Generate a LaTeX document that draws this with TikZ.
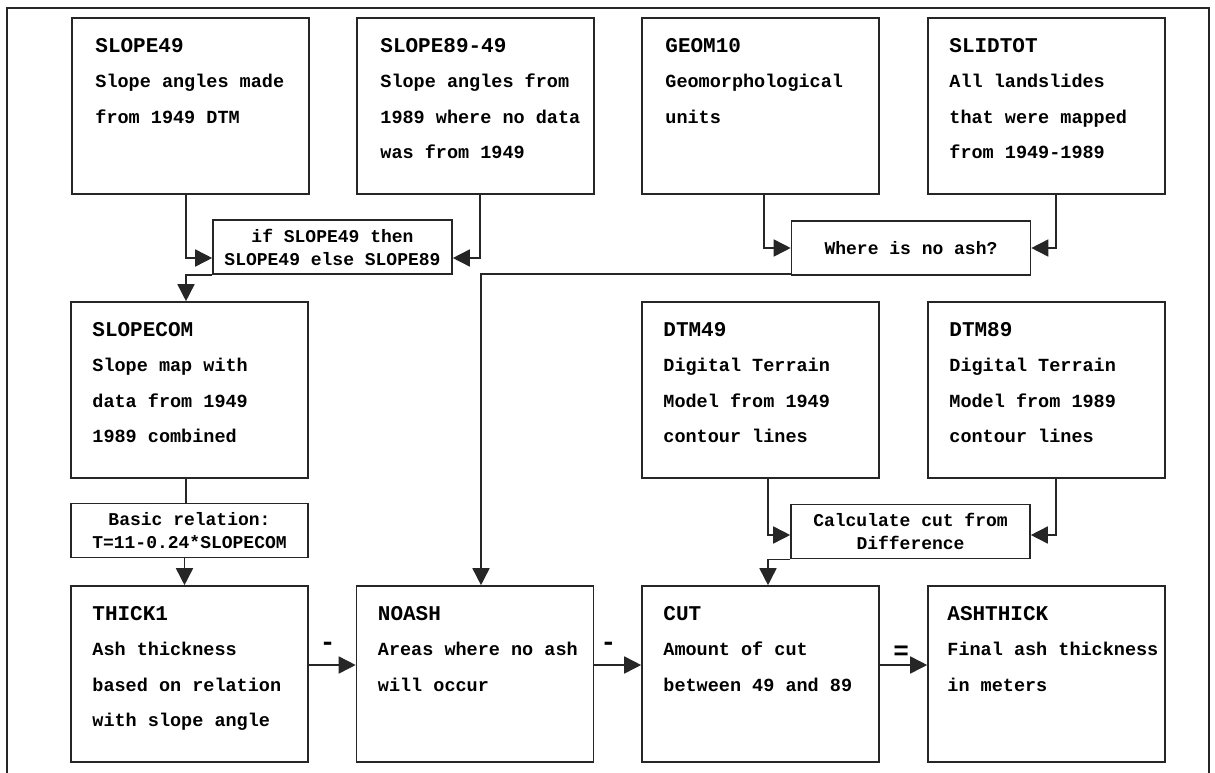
\documentclass[tikz,border=0pt]{standalone}
\usepackage{fontspec}
\setmonofont{Liberation Mono}
\usetikzlibrary{arrows.meta}
\newcommand\ttl[1]{{\fontsize{21}{35.5}\selectfont #1}}
\begin{document}
\begin{tikzpicture}[x=1pt,y=-1pt,
  bigbox/.style={draw=black!85, line width=1.6pt, minimum width=237pt, minimum height=176pt, inner sep=0pt},
  smallbox/.style={draw=black!85, line width=1.6pt, minimum width=239pt, minimum height=54pt, inner sep=0pt, align=center, font=\ttfamily\bfseries\fontsize{18}{23}\selectfont},
  boxtext/.style={anchor=north west, inner sep=0pt, align=left, font=\ttfamily\bfseries\fontsize{18.5}{35.5}\selectfont},
  conn/.style={draw=black!85, line width=1.6pt},
  arr/.style={conn, -{Triangle[length=17pt,width=17pt]}},
  oplabel/.style={font=\ttfamily\bfseries\fontsize{26}{26}\selectfont, inner sep=0pt}
]
\useasboundingbox (0,0) rectangle (1215,773);
% outer frame
\draw[conn] (7,776) -- (7,8) -- (1209,8) -- (1209,776);

% big boxes
\node[bigbox] (slope49) at (190.5,106) {};
\node[bigbox] (slope89) at (475.5,106) {};
\node[bigbox] (geom) at (760.5,106) {};
\node[bigbox] (slid) at (1046.5,106) {};
\node[bigbox] (slopecom) at (189.5,390) {};
\node[bigbox] (dtm49) at (760.5,390) {};
\node[bigbox] (dtm89) at (1046.5,390) {};
\node[bigbox] (thick) at (189.5,674) {};
\node[bigbox] (noash) at (475,674) {};
\node[bigbox] (cut) at (760.5,674) {};
\node[bigbox] (ash) at (1046.5,674) {};

% texts
\node[boxtext] (t1) at ([shift={(24,21)}]slope49.north west) {\ttl{SLOPE49}\\Slope angles made\\from 1949 DTM};
\node[boxtext] (t2) at ([shift={(24,21)}]slope89.north west) {\ttl{SLOPE89-49}\\Slope angles from\\1989 where no data\\was from 1949};
\node[boxtext] (t3) at ([shift={(24,21)}]geom.north west) {\ttl{GEOM10}\\Geomorphological\\units};
\node[boxtext] (t4) at ([shift={(22,21)}]slid.north west) {\ttl{SLIDTOT}\\All landslides\\that were mapped\\from 1949-1989};
\node[boxtext] (t5) at ([shift={(22,21)}]slopecom.north west) {\ttl{SLOPECOM}\\Slope map with\\data from 1949\\1989 combined};
\node[boxtext] (t6) at ([shift={(22,21)}]dtm49.north west) {\ttl{DTM49}\\Digital Terrain\\Model from 1949\\contour lines};
\node[boxtext] (t7) at ([shift={(22,21)}]dtm89.north west) {\ttl{DTM89}\\Digital Terrain\\Model from 1989\\contour lines};
\node[boxtext] (t8) at ([shift={(22,21)}]thick.north west) {\ttl{THICK1}\\Ash thickness\\based on relation\\with slope angle};
\node[boxtext] (t9) at ([shift={(22,21)}]noash.north west) {\ttl{NOASH}\\Areas where no ash\\will occur};
\node[boxtext] (t10) at ([shift={(22,21)}]cut.north west) {\ttl{CUT}\\Amount of cut\\between 49 and 89};
\node[boxtext] (t11) at ([shift={(20,21)}]ash.north west) {\ttl{ASHTHICK}\\Final ash thickness\\in meters};

% small boxes
\node[smallbox] (ifb) at (332.5,247) {if SLOPE49 then\\SLOPE49 else SLOPE89};
\node[smallbox] (where) at (911,248) {Where is no ash?};
\node[smallbox, minimum width=237pt] (basic) at (189.5,530.5) {Basic relation:\\T=11-0.24*SLOPECOM};
\node[smallbox] (calc) at (910.5,531.5) {Calculate cut from\\Difference};

% connectors
\draw[arr] ([xshift=-4.5pt]slope49.south) |- ([yshift=-11pt]ifb.west);
\draw[arr] ([xshift=4.5pt]slope89.south) |- ([yshift=-11pt]ifb.east);
\draw[arr] (ifb.south west) -| ([xshift=-3.5pt]slopecom.north);
\draw[arr] ([xshift=3.5pt]geom.south) |- (where.west);
\draw[arr] ([xshift=9.5pt]slid.south) |- (where.east);
\draw[arr] ([yshift=2pt]where.south west) -| ([xshift=6pt]noash.north);
\draw[conn] ([xshift=-3.5pt]slopecom.south) -- ([xshift=-3.5pt]basic.north);
\draw[arr] ([xshift=-5pt]basic.south) -- ([xshift=-5pt]thick.north);
\draw[arr] ([xshift=7.5pt]dtm49.south) |- ([yshift=-3.5pt]calc.west);
\draw[arr] ([xshift=9.5pt]dtm89.south) |- ([yshift=-3.5pt]calc.east);
\draw[arr] (calc.south west) -| ([xshift=7.5pt]cut.north);
\draw[arr] ([yshift=9pt]thick.east) -- node[oplabel, pos=0.4, above=14pt] (l1) {-} ([yshift=9pt]noash.west);
\draw[arr] ([yshift=9pt]noash.east) -- node[oplabel, pos=0.3, above=14pt] (l2) {-} ([yshift=9pt]cut.west);
\draw[arr] ([yshift=9pt]cut.east) -- node[oplabel, pos=0.45, above=5pt] (l3) {=} ([yshift=9pt]ash.west);
\end{tikzpicture}
\end{document}
